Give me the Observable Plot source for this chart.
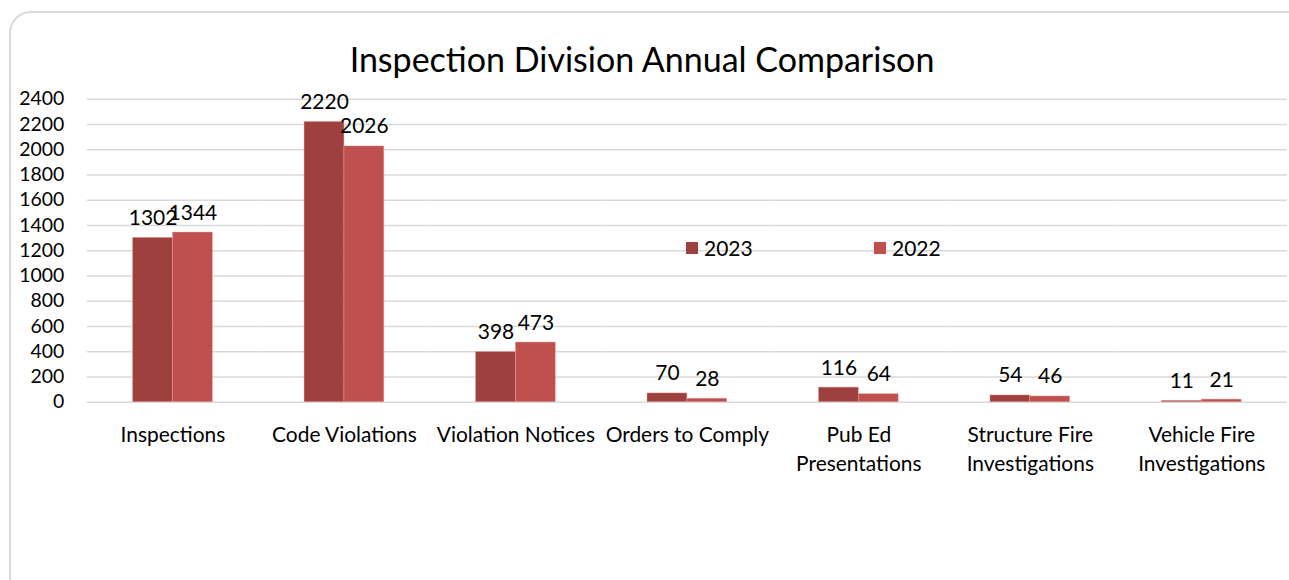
<!DOCTYPE html>
<html>
<head>
<meta charset="utf-8">
<script src="https://cdn.jsdelivr.net/npm/d3@7"></script>
<script src="https://cdn.jsdelivr.net/npm/@observablehq/plot@0.6"></script>
<style>
  html, body { margin: 0; padding: 0; background: #fff; overflow: hidden; width: 1289px; height: 580px; }
  #card { position: absolute; left: 9px; top: 11px; width: 1300px; height: 600px; border: 2px solid #d9d9d9; border-radius: 22px; box-sizing: border-box; }
  #chart { position: absolute; left: 0; top: 0; }
  #title { position: absolute; left: 0; width: 1284px; top: 38px; text-align: center; font-family: Lato, sans-serif; font-size: 34px; color: #000; }
  .leg { position: absolute; top: 235px; font-family: Lato, sans-serif; font-size: 21px; color: #000; display: flex; align-items: center; }
  .sw { width: 12px; height: 12px; margin-right: 6px; }
  svg text { fill: #000; }
</style>
</head>
<body>
<div id="card"></div>
<div id="chart"></div>
<div id="title">Inspection Division Annual Comparison</div>
<div class="leg" style="left:686px"><div class="sw" style="background:#9e403d"></div>2023</div>
<div class="leg" style="left:874px"><div class="sw" style="background:#c0504d"></div>2022</div>
<script>
const categories = ["Inspections", "Code Violations", "Violation Notices", "Orders to Comply", "Pub Ed Presentations", "Structure Fire Investigations", "Vehicle Fire Investigations"];
const categoryLabels = ["Inspections", "Code Violations", "Violation Notices", "Orders to Comply", "Pub Ed\nPresentations", "Structure Fire\nInvestigations", "Vehicle Fire\nInvestigations"];
const years = ["2023", "2022"];
const values2023 = [1302, 2220, 398, 70, 116, 54, 11];
const values2022 = [1344, 2026, 473, 28, 64, 46, 21];
const yTicks = [0, 200, 400, 600, 800, 1000, 1200, 1400, 1600, 1800, 2000, 2200, 2400];
const colors = ["#9e403d", "#c0504d"];

const data = [];
categories.forEach((c, i) => {
  data.push({category: c, year: "2023", value: values2023[i]});
  data.push({category: c, year: "2022", value: values2022[i]});
});
const labelOf = new Map(categories.map((c, i) => [c, categoryLabels[i]]));

const plot = Plot.plot({
  width: 1293,
  height: 580,
  marginTop: 99,
  marginBottom: 177,
  marginLeft: 84,
  marginRight: 0,
  style: {fontFamily: "Lato, sans-serif", fontSize: "20px", color: "#000", background: "transparent"},
  fx: {domain: categories, padding: 0, label: null, axis: null},
  x: {domain: years, paddingInner: 0, paddingOuter: 1.1, axis: null},
  y: {domain: [0, 2400], axis: null},
  color: {domain: years, range: colors},
  marks: [
    Plot.gridY(yTicks, {stroke: "#d9d9d9", strokeOpacity: 1, strokeWidth: 1.5}),
    Plot.barY(data, {fx: "category", x: "year", y: "value", fill: "year", stroke: "#e8a5a3", strokeWidth: 0.6, strokeOpacity: 0.7}),
    Plot.text(data, {fx: "category", x: "year", y: "value", text: d => String(d.value), lineAnchor: "bottom", dy: -13, fontSize: 21, fill: "#000"}),
    Plot.axisY({ticks: yTicks, tickSize: 0, tickPadding: 23, fontSize: 19.5, label: null, tickFormat: d => String(d)}),
    Plot.axisFx({anchor: "bottom", tickSize: 0, tickPadding: 19, fontSize: 21, lineHeight: 1.38, label: null, tickFormat: c => labelOf.get(c)})
  ]
});
document.getElementById("chart").appendChild(plot);
</script>
</body>
</html>
